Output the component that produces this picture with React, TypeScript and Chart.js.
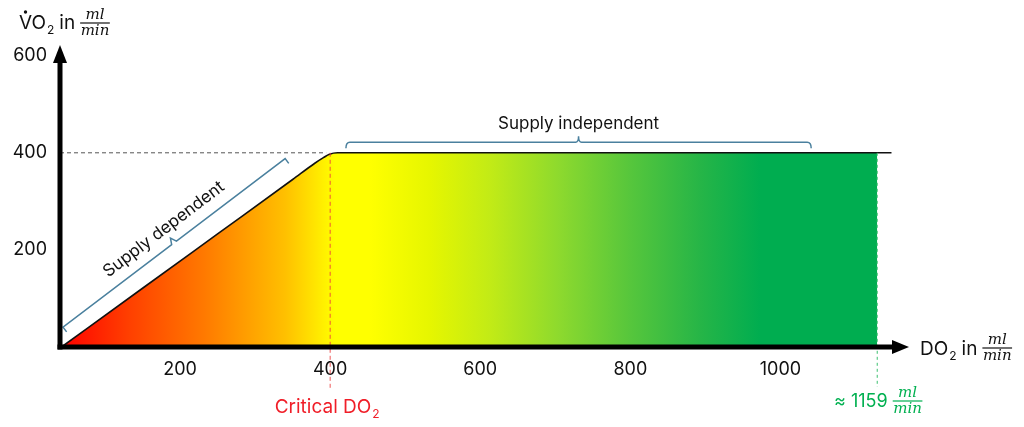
import React, { useEffect, useRef } from "react";
import { Chart, registerables } from "chart.js";

Chart.register(...registerables);

// curve: oxygen consumption vs. oxygen delivery
const curveX = [42, 150, 250, 350, 380, 391, 399, 410, 440, 700, 1000, 1148];
const curveY = [0, 121, 233, 345, 379, 390, 397, 400, 400, 400, 400, 400];
const fillEndX = 1129;
const criticalX = 400;
const plateauY = 400;
const xTicks = [200, 400, 600, 800, 1000];
const yTicks = [200, 400, 600];

// colour ramp of the area below the curve (x in data units)
const rampX = [40, 133, 233, 340, 407, 453, 533, 613, 707, 800, 893, 973];
const rampColor = ["#FF0000", "#FF4000", "#FF7A00", "#FFC000", "#FFFF00", "#FFFF00", "#E6F600", "#C2EB16", "#8CD92E", "#56C63C", "#26B547", "#00AD50"];

const SANS = "Inter, 'Noto Sans', sans-serif";
const SERIF = "'DejaVu Serif', 'Liberation Serif', serif";
const BRACKET = "#4A809E";

const drawSub = (ctx, x, y, main, sub, size, color) => {
    ctx.fillStyle = color;
    ctx.textAlign = "left";
    ctx.textBaseline = "alphabetic";
    ctx.font = `${size}px ${SANS}`;
    ctx.fillText(main, x, y);
    const w = ctx.measureText(main).width;
    ctx.font = `${Math.round(size * 0.65)}px ${SANS}`;
    ctx.fillText(sub, x + w + 1, y + size * 0.25);
    return x + w + 1 + ctx.measureText(sub).width;
};

const subWidth = (ctx, main, sub, size) => {
    ctx.font = `${size}px ${SANS}`;
    const w = ctx.measureText(main).width;
    ctx.font = `${Math.round(size * 0.65)}px ${SANS}`;
    return w + 1 + ctx.measureText(sub).width;
};

const drawFraction = (ctx, x, yMid, num, den, color) => {
    ctx.font = `italic 15px ${SERIF}`;
    const w = Math.max(ctx.measureText(num).width, ctx.measureText(den).width) + 1;
    ctx.fillStyle = color;
    ctx.strokeStyle = color;
    ctx.textAlign = "center";
    ctx.textBaseline = "alphabetic";
    ctx.fillText(num, x + w / 2, yMid - 4);
    ctx.fillText(den, x + w / 2, yMid + 12);
    ctx.lineWidth = 1.2;
    ctx.setLineDash([]);
    ctx.beginPath();
    ctx.moveTo(x, yMid);
    ctx.lineTo(x + w, yMid);
    ctx.stroke();
};

const overlay = {
    id: "overlay",
    afterDatasetsDraw(chart) {
        const { ctx, chartArea: a, scales } = chart;
        const px = (v) => scales.x.getPixelForValue(v);
        const py = (v) => scales.y.getPixelForValue(v);
        const seg = (x1, y1, x2, y2) => {
            ctx.beginPath();
            ctx.moveTo(x1, y1);
            ctx.lineTo(x2, y2);
            ctx.stroke();
        };
        ctx.save();

        // reference lines
        ctx.lineWidth = 1;
        ctx.setLineDash([4, 3]);
        ctx.strokeStyle = "#555";
        seg(a.left, py(plateauY), px(criticalX) - 4, py(plateauY));
        ctx.strokeStyle = "rgba(235,60,60,0.85)";
        seg(px(criticalX), py(plateauY), px(criticalX), a.bottom + 41);
        ctx.setLineDash([3, 3]);
        ctx.strokeStyle = "#3CC070";
        seg(px(fillEndX), py(plateauY), px(fillEndX), a.bottom + 40);

        // bracket: supply independent
        ctx.setLineDash([]);
        ctx.strokeStyle = BRACKET;
        ctx.lineWidth = 1.5;
        const bx1 = px(421), bx2 = px(1041), by = py(422), bm = (bx1 + bx2) / 2;
        ctx.beginPath();
        ctx.moveTo(bx1, by + 6);
        ctx.quadraticCurveTo(bx1, by, bx1 + 4, by);
        ctx.lineTo(bm - 3, by);
        ctx.quadraticCurveTo(bm, by, bm, by - 6);
        ctx.quadraticCurveTo(bm, by, bm + 3, by);
        ctx.lineTo(bx2 - 4, by);
        ctx.quadraticCurveTo(bx2, by, bx2, by + 6);
        ctx.stroke();
        ctx.fillStyle = "#111";
        ctx.font = `17px ${SANS}`;
        ctx.textAlign = "center";
        ctx.textBaseline = "middle";
        ctx.fillText("Supply independent", bm, by - 18);

        // bracket: supply dependent (along the slope)
        const sx = px(44), sy = py(41), ex = px(340), ey = py(388);
        const len = Math.hypot(ex - sx, ey - sy);
        const ux = (ex - sx) / len, uy = (ey - sy) / len;
        const nx = -uy, ny = ux; // points down-right, toward the curve
        const mx = (sx + ex) / 2, my = (sy + ey) / 2;
        ctx.beginPath();
        ctx.moveTo(sx + nx * 6, sy + ny * 6);
        ctx.lineTo(sx, sy);
        ctx.lineTo(mx - ux * 3, my - uy * 3);
        ctx.lineTo(mx - nx * 6, my - ny * 6);
        ctx.lineTo(mx + ux * 3, my + uy * 3);
        ctx.lineTo(ex, ey);
        ctx.lineTo(ex + nx * 6, ey + ny * 6);
        ctx.stroke();
        ctx.save();
        ctx.translate(mx - nx * 17, my - ny * 17);
        ctx.rotate(Math.atan2(uy, ux));
        ctx.fillStyle = "#111";
        ctx.font = `17px ${SANS}`;
        ctx.textAlign = "center";
        ctx.textBaseline = "middle";
        ctx.fillText("Supply dependent", 0, 0);
        ctx.restore();

        // critical DO2 label
        const cw = subWidth(ctx, "Critical DO", "2", 19);
        drawSub(ctx, px(criticalX) - 3 - cw / 2, a.bottom + 66, "Critical DO", "2", 19, "#F01E28");

        // approx. value label
        ctx.fillStyle = "#00B050";
        ctx.font = `18px ${SANS}`;
        ctx.textAlign = "left";
        ctx.textBaseline = "alphabetic";
        ctx.fillText("≈ 1159", a.right - 74, a.bottom + 60);
        const gx = a.right - 74 + ctx.measureText("≈ 1159").width + 5;
        drawFraction(ctx, gx, a.bottom + 54, "ml", "min", "#00B050");

        // axes with arrow heads
        ctx.fillStyle = "#000";
        ctx.strokeStyle = "#000";
        ctx.lineWidth = 5;
        ctx.lineCap = "butt";
        seg(a.left, a.bottom + 2.5, a.left, a.top + 14);
        seg(a.left - 2.5, a.bottom, a.right - 14, a.bottom);
        ctx.beginPath();
        ctx.moveTo(a.left, a.top - 1);
        ctx.lineTo(a.left - 7, a.top + 17);
        ctx.lineTo(a.left + 7, a.top + 17);
        ctx.closePath();
        ctx.fill();
        ctx.beginPath();
        ctx.moveTo(a.right + 1, a.bottom);
        ctx.lineTo(a.right - 16, a.bottom - 7);
        ctx.lineTo(a.right - 16, a.bottom + 7);
        ctx.closePath();
        ctx.fill();

        // axis titles
        const vx = 19;
        ctx.fillStyle = "#111";
        const vEnd = drawSub(ctx, vx, 29, "VO", "2", 19, "#111");
        ctx.beginPath();
        ctx.arc(vx + 6.5, 12, 1.7, 0, Math.PI * 2);
        ctx.fill();
        ctx.font = `19px ${SANS}`;
        ctx.fillText("in", vEnd + 5, 29);
        drawFraction(ctx, vEnd + 5 + ctx.measureText("in").width + 5, 23, "ml", "min", "#111");

        const dEnd = drawSub(ctx, a.right + 12, a.bottom + 8, "DO", "2", 19, "#111");
        ctx.font = `19px ${SANS}`;
        ctx.fillText("in", dEnd + 5, a.bottom + 8);
        drawFraction(ctx, dEnd + 5 + ctx.measureText("in").width + 5, a.bottom + 1, "ml", "min", "#111");

        ctx.restore();
    }
};

export default function App() {
    const canvasRef = useRef<HTMLCanvasElement>(null);

    useEffect(() => {
        if (!canvasRef.current) return;
        const points = curveX.map((v, i) => ({ x: v, y: curveY[i] }));
        const fillPoints = points.filter((p) => p.x < fillEndX).concat([{ x: fillEndX, y: plateauY }]);

        const chart = new Chart(canvasRef.current, {
            type: "line",
            data: {
                datasets: [
                    {
                        data: points,
                        borderColor: "#111",
                        borderWidth: 1.6,
                        pointRadius: 0,
                        fill: false,
                        cubicInterpolationMode: "monotone"
                    },
                    {
                        data: fillPoints,
                        borderWidth: 0,
                        borderColor: "rgba(0,0,0,0)",
                        pointRadius: 0,
                        fill: "origin",
                        cubicInterpolationMode: "monotone",
                        backgroundColor: (c) => {
                            const { chart: ch } = c;
                            const area = ch.chartArea;
                            if (!area) return "#FFC000";
                            const xs = ch.scales.x;
                            const x0 = xs.getPixelForValue(rampX[0]);
                            const x1 = xs.getPixelForValue(fillEndX);
                            const g = ch.ctx.createLinearGradient(x0, 0, x1, 0);
                            rampX.forEach((v, i) => {
                                const t = (xs.getPixelForValue(v) - x0) / (x1 - x0);
                                g.addColorStop(Math.min(1, Math.max(0, t)), rampColor[i]);
                            });
                            g.addColorStop(1, rampColor[rampColor.length - 1]);
                            return g;
                        }
                    }
                ]
            },
            options: {
                animation: false,
                responsive: true,
                maintainAspectRatio: false,
                layout: { padding: { top: 46, right: 116, left: 0, bottom: 0 } },
                plugins: { legend: { display: false }, tooltip: { enabled: false } },
                scales: {
                    x: {
                        type: "linear",
                        min: 40,
                        max: 1170,
                        grid: { display: false, drawTicks: false },
                        border: { display: false },
                        afterBuildTicks: (s) => { s.ticks = xTicks.map((v) => ({ value: v })); },
                        afterFit: (s) => { s.height = 80; },
                        ticks: { padding: 12, color: "#111", font: { family: SANS, size: 18 }, maxRotation: 0, callback: (v) => String(v) }
                    },
                    y: {
                        min: 0,
                        max: 620,
                        grid: { display: false, drawTicks: false },
                        border: { display: false },
                        afterBuildTicks: (s) => { s.ticks = yTicks.map((v) => ({ value: v })); },
                        afterFit: (s) => { s.width = 60; },
                        ticks: { padding: 13, color: "#111", font: { family: SANS, size: 18 }, callback: (v) => String(v) }
                    }
                }
            },
            plugins: [overlay]
        });

        return () => chart.destroy();
    }, []);

    return (
        <div style={{ position: "absolute", left: 0, top: 0, width: 1024, height: 427, background: "#fff" }}>
            <canvas ref={canvasRef}></canvas>
        </div>
    );
}
